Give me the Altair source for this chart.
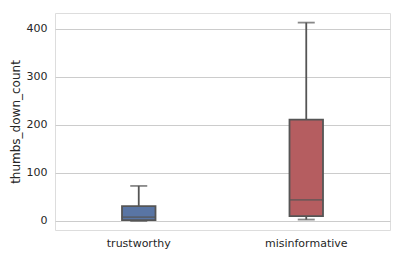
import altair as alt
import pandas as pd

categories = ["trustworthy", "misinformative"]
whisker_low = [0, 3]
q1 = [2, 10]
median = [8, 44]
q3 = [31, 211]
whisker_high = [73, 413]
colors = ["#5975a4", "#b55d60"]

df = pd.DataFrame({
    "category": categories,
    "low": whisker_low,
    "q1": q1,
    "median": median,
    "q3": q3,
    "high": whisker_high,
})

line_color = "#555555"
x = alt.X("category:N", sort=categories,
          scale=alt.Scale(paddingInner=0, paddingOuter=0),
          axis=alt.Axis(title=None, labelAngle=0, ticks=False, domain=False,
                        labelFontSize=11, labelColor="#262626", labelPadding=7,
                        labelFont="DejaVu Sans"))
yscale = alt.Scale(domain=[-18.75, 433], nice=False, zero=False)
yaxis = alt.Axis(title="thumbs_down_count", values=[0, 100, 200, 300, 400],
                 ticks=False, domain=False, grid=True, gridColor="#cccccc",
                 gridWidth=1, labelFontSize=11, labelColor="#262626",
                 labelPadding=8, labelFont="DejaVu Sans",
                 titleFont="DejaVu Sans", titleFontSize=12,
                 titleFontWeight="normal", titleColor="#262626", titlePadding=4)

base = alt.Chart(df)

whisker = base.mark_rule(color=line_color, strokeWidth=1.8).encode(
    x=x,
    y=alt.Y("low:Q", scale=yscale, axis=yaxis),
    y2="high:Q",
)
box = base.mark_bar(width={"band": 0.2}, stroke=line_color, strokeWidth=1.8).encode(
    x=x,
    y=alt.Y("q1:Q", scale=yscale),
    y2="q3:Q",
    color=alt.Color("category:N", scale=alt.Scale(domain=categories, range=colors), legend=None),
)
med = base.mark_tick(size=34, thickness=1.8, color=line_color).encode(
    x=x, y=alt.Y("median:Q", scale=yscale))
cap_low = base.mark_tick(size=17, thickness=1.8, color=line_color).encode(
    x=x, y=alt.Y("low:Q", scale=yscale))
cap_high = base.mark_tick(size=17, thickness=1.8, color=line_color).encode(
    x=x, y=alt.Y("high:Q", scale=yscale))

chart = alt.layer(whisker, box, med, cap_low, cap_high).properties(
    width=335, height=217,
    autosize=alt.AutoSizeParams(type="none"),
    padding={"left": 47, "top": 5, "right": 4, "bottom": 19},
).configure_view(stroke="#cccccc", strokeWidth=1).configure(background="white")

chart.save("out.html", embed_options={"renderer": "svg", "actions": False})
